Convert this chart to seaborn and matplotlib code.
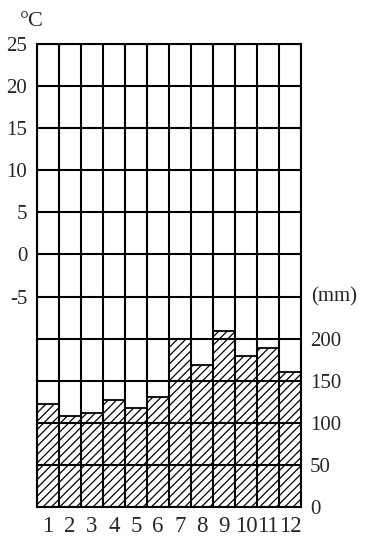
import matplotlib
matplotlib.use('Agg')
import matplotlib.pyplot as plt
import seaborn as sns
import pandas as pd

# ---- data ----
months = ['1', '2', '3', '4', '5', '6', '7', '8', '9', '10', '11', '12']
precip_mm = [122, 108, 112, 127, 117, 131, 200, 169, 209, 179, 189, 160]
temp_ticks = [-5, 0, 5, 10, 15, 20, 25]
precip_ticks = [0, 50, 100, 150, 200]

sns.set_theme(style='white')
plt.rcParams['font.family'] = ['Liberation Serif', 'DejaVu Serif']
plt.rcParams['hatch.linewidth'] = 0.9
plt.rcParams['hatch.color'] = 'black'

fig = plt.figure(figsize=(3.7, 5.42), dpi=100)
ax = fig.add_axes([0.1, 0.0646, 0.7135, 0.8542])

df = pd.DataFrame({'month': months, 'precip': precip_mm})
sns.barplot(data=df, x='month', y='precip', color='white', saturation=1,
            edgecolor='black', linewidth=1.3, hatch='////', width=1.0,
            ax=ax, zorder=1)

ax.set_xlim(-0.5, len(months) - 0.5)
ax.set_ylim(0, 550)
ax.set_xlabel('')
ax.set_ylabel('')

# right axis: precipitation
yt = list(range(0, 551, 50))
ax.set_yticks(yt)
ax.set_yticklabels([str(v) if v in precip_ticks else '' for v in yt])
ax.yaxis.tick_right()
ax.tick_params(axis='y', length=0, labelsize=15, pad=6.5)
ax.tick_params(axis='x', length=0, labelsize=16.5, pad=6.5)

# grid
ax.set_xticks([i - 0.5 for i in range(len(months) + 1)], minor=True)
ax.tick_params(axis='x', which='minor', length=0)
ax.grid(which='minor', axis='x', color='black', linewidth=1.5)
ax.grid(which='major', axis='y', color='black', linewidth=1.5)
ax.grid(which='major', axis='x', visible=False)
ax.set_axisbelow(False)

for s in ax.spines.values():
    s.set_visible(True)
    s.set_color('black')
    s.set_linewidth(1.5)

# left axis: temperature
sec = ax.secondary_yaxis('left', functions=(lambda y: (y - 300) / 10.0,
                                            lambda t: t * 10.0 + 300))
sec.set_yticks(temp_ticks)
sec.set_yticklabels([str(t) for t in temp_ticks])
sec.tick_params(length=0, labelsize=15, pad=7)
sec.spines['left'].set_visible(False)

fig.text(32 / 370, 1 - 22 / 542, '°C', ha='center', va='center', fontsize=16)
fig.text(334 / 370, 1 - 297 / 542, '(mm)', ha='center', va='center', fontsize=15)

fig.savefig('out.png', dpi=100, facecolor='white')
